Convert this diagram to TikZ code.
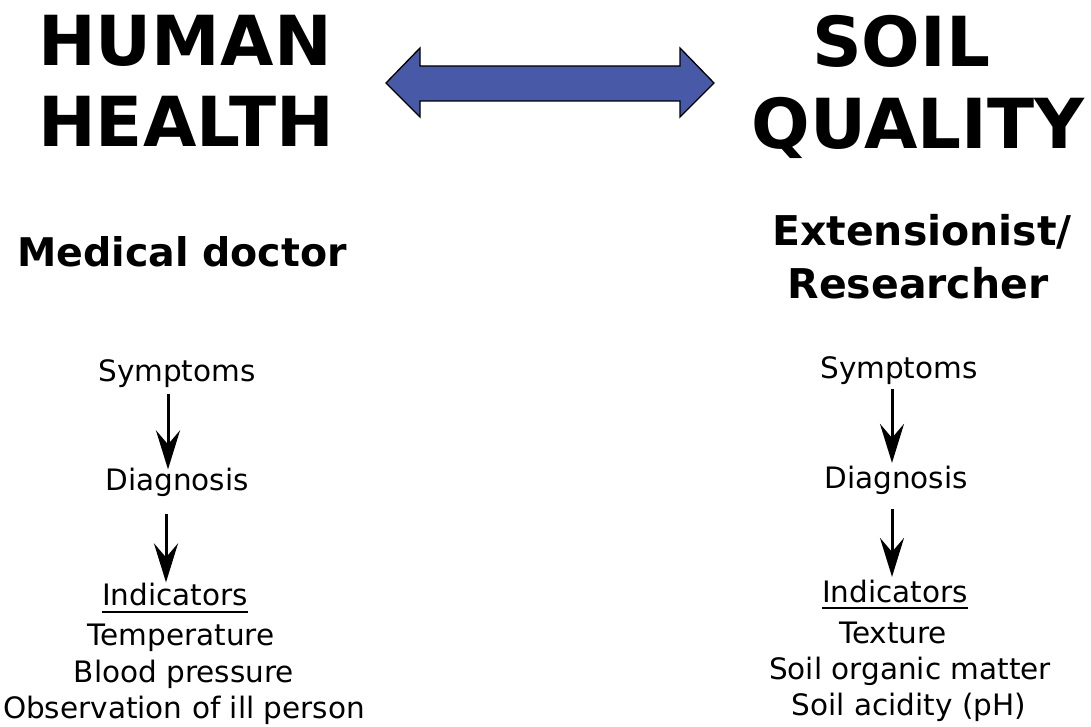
\documentclass[tikz,border=0pt]{standalone}
\usepackage{fontspec}
\setmainfont{DejaVu Sans}
\usetikzlibrary{arrows.meta}

\definecolor{arrowblue}{RGB}{72,89,167}

\begin{document}
\begin{tikzpicture}[x=1pt,y=-1pt,
  title/.style={font=\fontsize{69}{80}\selectfont\bfseries, inner sep=0pt, anchor=base},
  role/.style={font=\fontsize{41}{48}\selectfont\bfseries, inner sep=0pt, anchor=base},
  item/.style={font=\fontsize{29.5}{35}\selectfont, inner sep=0pt, anchor=base},
  flow/.style={line width=3pt, -{Stealth[length=39pt,width=24pt,inset=14pt]}},
  uline/.style={line width=1.4pt},
  bigarrow/.style={fill=arrowblue, draw=black, line width=1.3pt, line join=miter}]

\useasboundingbox (0,0) rectangle (1091,727);

% headline terms
\node[title] (hh1) at (185,66) {HUMAN};
\node[title] (hh2) at (186,147) {HEALTH};
\node[title] (sq1) at (901,67) {SOIL};
\node[title] (sq2) at (918,149) {QUALITY};

% two-headed block arrow linking the two terms
\draw[bigarrow] (386,83) -- (420,48) -- (420,66) -- (680,66) -- (680,48)
  -- (714,83) -- (680,117) -- (680,101) -- (420,101) -- (420,117) -- cycle;

% who assesses
\node[role, font=\fontsize{39.5}{48}\selectfont\bfseries] (doc) at (182,266) {Medical doctor};
\node[role] (ext1) at (922,245) {Extensionist/};
\node[role] (ext2) at (918,298) {Researcher};

% human side
\node[item] (sympL) at (177,381) {Symptoms};
\node[item] (diagL) at (177,490) {Diagnosis};
\node[item] (indL)  at (175,605) {Indicators};
\node[item] (tempL) at (181,645) {Temperature};
\node[item] (bpL)   at (184,682) {Blood pressure};
\node[item] (obsL)  at (184,718) {Observation of ill person};

% soil side
\node[item] (sympR) at (899,378) {Symptoms};
\node[item] (diagR) at (896,488) {Diagnosis};
\node[item] (indR)  at (895,602) {Indicators};
\node[item] (texR)  at (893,643) {Texture};
\node[item] (somR)  at (910,679) {Soil organic matter};
\node[item] (phR)   at (909,715) {Soil acidity (pH)};

% underlines
\draw[uline] ([yshift=-7pt]indL.base west) -- ([yshift=-7pt]indL.base east);
\draw[uline] ([yshift=-6pt]indR.base west) -- ([yshift=-6pt]indR.base east);

% flow arrows
\coordinate (axL) at (168,0);
\coordinate (axL2) at (166,0);
\coordinate (axR) at (892,0);
\draw[flow, shorten <=7pt] (sympL.south -| axL) -- ([yshift=-2pt]diagL.north -| axL);
\draw[flow, shorten <=18pt] (diagL.south -| axL2) -- (indL.north -| axL2);
\draw[flow, shorten <=5pt] (sympR.south -| axR) -- ([yshift=2.5pt]diagR.north -| axR);
\draw[flow, shorten <=15pt] (diagR.south -| axR) -- ([yshift=2.5pt]indR.north -| axR);

\end{tikzpicture}
\end{document}
